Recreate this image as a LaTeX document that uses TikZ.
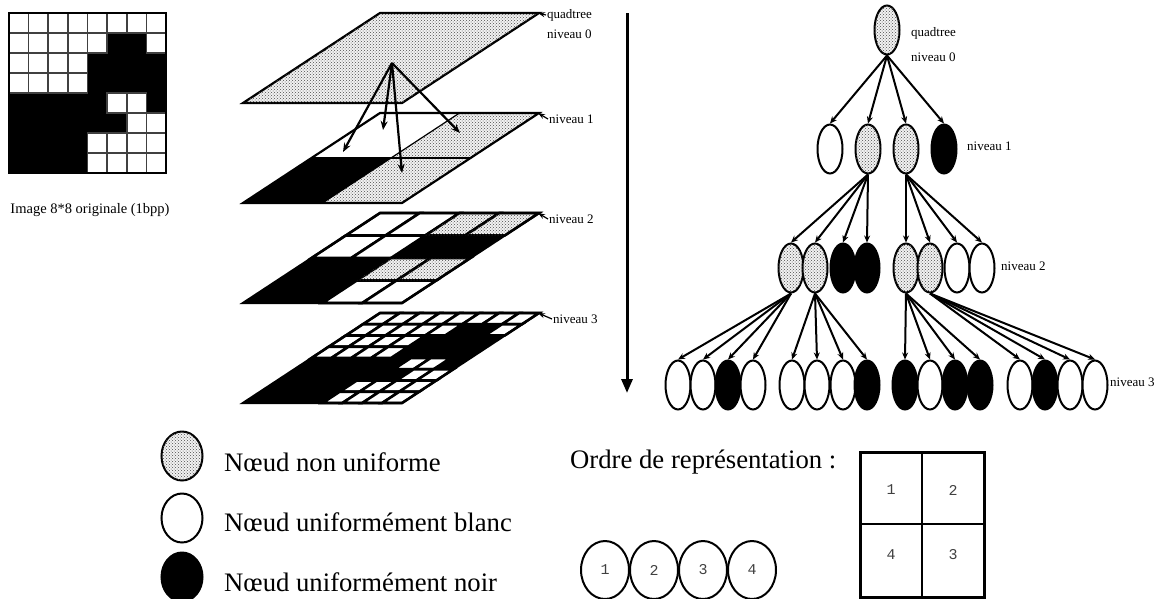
\documentclass[tikz,border=0pt]{standalone}
\usepackage{fontspec}
\setmainfont{Liberation Serif}
\newfontfamily\monof{Liberation Mono}
\usetikzlibrary{shapes.geometric,arrows.meta,patterns}
% parallelogram cell on a plane: #1 style, #2 y of front edge, #3 u0, #4 u1, #5 v0, #6 v1
\newcommand{\plcell}[6]{\path[#1] ({243+159*(#3)+137*(#5)},{#2-90*(#5)}) -- ({243+159*(#4)+137*(#5)},{#2-90*(#5)}) -- ({243+159*(#4)+137*(#6)},{#2-90*(#6)}) -- ({243+159*(#3)+137*(#6)},{#2-90*(#6)}) -- cycle;}
\def\imgrows{0/{0,0,0,0,0,0,0,0},1/{0,0,0,0,0,1,1,0},2/{0,0,0,0,1,1,1,1},3/{0,0,0,0,1,1,1,1},4/{1,1,1,1,1,0,0,1},5/{1,1,1,1,1,1,0,0},6/{1,1,1,1,0,0,0,0},7/{1,1,1,1,0,0,0,0}}
\newcommand{\lblf}{\fontsize{13}{14}\selectfont}
\newcommand{\bigf}{\fontsize{26.7}{30}\selectfont}
\tikzset{
  greyarea/.style={fill=gray!10, postaction={pattern=crosshatch dots, pattern color=black!70}},
  tn/.style={ellipse, draw, line width=2pt, minimum width=25pt, minimum height=49pt, inner sep=0pt},
  gn/.style={tn, greyarea},
  wn/.style={tn, fill=white},
  bn/.style={tn, fill=black},
  ln/.style={ellipse, draw, line width=2pt, minimum width=41pt, minimum height=49pt, inner sep=0pt},
  tarr/.style={line width=2pt, -{Stealth[length=7pt,width=6pt]}},
  parr/.style={line width=2.2pt, -{Stealth[length=9pt,width=7pt]}},
  smallarr/.style={line width=1.2pt, -{Stealth[length=7pt,width=5pt]}},
  lbl/.style={anchor=west, inner sep=1pt, font=\lblf},
  oc/.style={ellipse, draw, line width=2pt, minimum width=48pt, minimum height=58pt, inner sep=0pt, font=\monof\fontsize{15}{16}\selectfont, text=black!75},
  qn/.style={font=\monof\fontsize{15}{16}\selectfont, text=black!75},
}
\begin{document}
\begin{tikzpicture}[x=1pt,y=-1pt]
\useasboundingbox (0,0) rectangle (1154,598);

% ---------- original 8x8 image ----------
\fill[black] (9,13) rectangle (166,173);
\foreach \r/\row in \imgrows {
  \foreach \b [count=\c from 0] in \row {
    \ifnum\b=0
      \draw[fill=white, draw=black!75, line width=1.6pt] ({9+19.625*\c},{13+20*\r}) rectangle ({9+19.625*(\c+1)},{13+20*(\r+1)});
    \fi
  }
}
\draw[line width=2pt] (9,13) rectangle (166,173);
\node[font=\fontsize{14.5}{16}\selectfont] (cap) at (90,210) {Image 8*8 originale (1bpp)};

% ---------- stacked planes ----------
% level 3
\plcell{fill=black}{403}{0}{1}{0}{1}
\foreach \r/\row in \imgrows {
  \foreach \b [count=\c from 0] in \row {
    \ifnum\b=0
      \plcell{fill=white, draw=black, line width=2.6pt}{403}{\c/8}{(\c+1)/8}{1-(\r+1)/8}{1-\r/8}
    \fi
  }
}
\plcell{draw=black, line width=2.2pt}{403}{0}{1}{0}{1}
% level 2
\plcell{fill=black}{303}{0}{1}{0}{1}
\foreach \R/\C in {0/0,0/1,1/0,1/1,3/2,3/3} {
  \plcell{fill=white, draw=black, line width=2.6pt}{303}{\C/4}{(\C+1)/4}{1-(\R+1)/4}{1-\R/4}
}
\foreach \R/\C in {0/2,0/3,2/2,2/3} {
  \plcell{greyarea, draw=black, line width=2.6pt}{303}{\C/4}{(\C+1)/4}{1-(\R+1)/4}{1-\R/4}
}
\plcell{draw=black, line width=2.2pt}{303}{0}{1}{0}{1}
% level 1
\plcell{greyarea}{203}{0.5}{1}{0}{1}
\plcell{fill=white}{203}{0}{0.5}{0.5}{1}
\plcell{fill=black}{203}{0}{0.5}{0}{0.5}
\draw[line width=1.2pt] (311.5,158) -- (470.5,158);
\draw[line width=1.2pt] (322.5,203) -- (459.5,113);
\plcell{draw=black, line width=2.2pt}{203}{0}{1}{0}{1}
% level 0
\plcell{greyarea, draw=black, line width=2.2pt}{103}{0}{1}{0}{1}

% arrows from level 0 to level 1
\coordinate (apex) at (392,63);
\coordinate (t1) at (343,152);
\coordinate (t2) at (383,130);
\coordinate (t3) at (402,173);
\coordinate (t4) at (460,133);
\draw[parr] (apex) -- (t1);
\draw[parr] (apex) -- (t2);
\draw[parr] (apex) -- (t3);
\draw[parr] (apex) -- (t4);

% plane labels
\coordinate (c0) at (538,13);
\coordinate (c1) at (538,113);
\coordinate (c2) at (538,213);
\coordinate (c3) at (538,313);
\node[lbl] (pq) at (546,15) {quadtree};
\node[lbl] (p0) at (546,34) {niveau 0};
\node[lbl] (p1) at (548,119) {niveau 1};
\node[lbl] (p2) at (548,219) {niveau 2};
\node[lbl] (p3) at (552,319) {niveau 3};
\draw[smallarr] (pq.west) -- (c0);
\draw[smallarr] (p1.west) -- (c1);
\draw[smallarr] (p2.west) -- (c2);
\draw[smallarr] (p3.west) -- (c3);

% ---------- big vertical arrow ----------
\coordinate (vtop) at (627,13);
\coordinate (vbot) at (627,393);
\draw[line width=3pt, -{Triangle[length=14pt,width=11pt]}] (vtop) -- (vbot);

% ---------- tree ----------
\node[gn] (r) at (887,30) {};
\node[wn] (n1) at (830,149) {};
\node[gn] (n2) at (868,149) {};
\node[gn] (n3) at (906,149) {};
\node[bn] (n4) at (944,149) {};
\node[gn] (a1) at (791,268) {};
\node[gn] (a2) at (815,268) {};
\node[bn] (a3) at (843,268) {};
\node[bn] (a4) at (867,268) {};
\node[gn] (a5) at (906,268) {};
\node[gn] (a6) at (930,268) {};
\node[wn] (a7) at (957,268) {};
\node[wn] (a8) at (982,268) {};
\node[wn] (b1) at (678,385) {};
\node[wn] (b2) at (703,385) {};
\node[bn] (b3) at (728,385) {};
\node[wn] (b4) at (753,385) {};
\node[wn] (b5) at (792,385) {};
\node[wn] (b6) at (817,385) {};
\node[wn] (b7) at (843,385) {};
\node[bn] (b8) at (867,385) {};
\node[bn] (b9) at (905,385) {};
\node[wn] (b10) at (930,385) {};
\node[bn] (b11) at (955,385) {};
\node[bn] (b12) at (980,385) {};
\node[wn] (b13) at (1020,385) {};
\node[bn] (b14) at (1045,385) {};
\node[wn] (b15) at (1070,385) {};
\node[wn] (b16) at (1095,385) {};
\foreach \c in {n1,n2,n3,n4} \draw[tarr] (r.south) -- (\c.north);
\foreach \c in {a1,a2,a3,a4} \draw[tarr] (n2.south) -- (\c.north);
\foreach \c in {a5,a6,a7,a8} \draw[tarr] (n3.south) -- (\c.north);
\foreach \c in {b1,b2,b3,b4} \draw[tarr] (a1.south) -- (\c.north);
\foreach \c in {b5,b6,b7,b8} \draw[tarr] (a2.south) -- (\c.north);
\foreach \c in {b9,b10,b11,b12} \draw[tarr] (a5.south) -- (\c.north);
\foreach \c in {b13,b14,b15,b16} \draw[tarr] (a6.south) -- (\c.north);
\node[lbl] (tq) at (910,33) {quadtree};
\node[lbl] (t0) at (910,57) {niveau 0};
\node[lbl] (tl1) at (966,146) {niveau 1};
\node[lbl] (tl2) at (1000,266) {niveau 2};
\node[lbl] (tl3) at (1109,382) {niveau 3};

% ---------- legend ----------
\node[ln, greyarea] (lg) at (182,456) {};
\node[ln, fill=white] (lw) at (182,518) {};
\node[ln, fill=black] (lb) at (182,577) {};
\node[anchor=west, inner sep=0pt, font=\bigf] (tg) at (224,462) {Nœud non uniforme};
\node[anchor=west, inner sep=0pt, font=\bigf] (tw) at (224,522) {Nœud uniformément blanc};
\node[anchor=west, inner sep=0pt, font=\bigf] (tb) at (224,582) {Nœud uniformément noir};

% ---------- order ----------
\node[anchor=west, inner sep=0pt, font=\bigf] (ord) at (570,462) {Ordre de représentation :};
\node[oc] (o1) at (605,570) {1};
\node[oc] (o2) at (654,570) {2};
\node[oc] (o3) at (703,570) {3};
\node[oc] (o4) at (752,570) {4};
\draw[line width=2pt] (922,452) -- (922,597);
\draw[line width=2pt] (860,524) -- (984,524);
\draw[line width=3pt] (860,452) rectangle (984,597);
\node[qn] (q1) at (891,490) {1};
\node[qn] (q2) at (953,490) {2};
\node[qn] (q4) at (891,555) {4};
\node[qn] (q3) at (953,555) {3};
\end{tikzpicture}
\end{document}
